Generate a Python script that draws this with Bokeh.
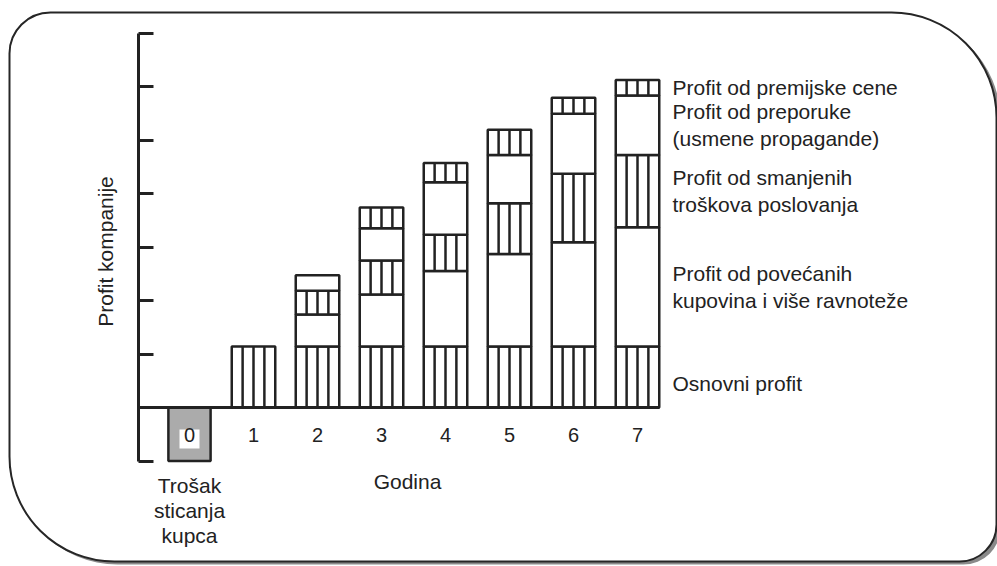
import math
from bokeh.plotting import figure
from bokeh.models import Range1d, LinearAxis, FixedTicker, BoxAnnotation
from bokeh.core.properties import value
from bokeh.embed import file_html
from bokeh.resources import INLINE

# ---------------- data (y in axis-tick units) ----------------
years = [1, 2, 3, 4, 5, 6, 7]
base_profit = [1.14, 1.14, 1.14, 1.14, 1.14, 1.14, 1.14]
purchases = [0.00, 0.60, 0.97, 1.41, 1.73, 1.95, 2.23]
cost_savings = [0.00, 0.44, 0.64, 0.68, 0.95, 1.28, 1.35]
referrals = [0.00, 0.29, 0.60, 0.98, 0.90, 1.12, 1.11]
premium = [0.00, 0.00, 0.39, 0.36, 0.47, 0.30, 0.29]
acq_year = [0]
acq_cost = [-1.0]
x_ticks = [0, 1, 2, 3, 4, 5, 6, 7]
y_ticks = [-1, 0, 1, 2, 3, 4, 5, 6, 7]
series_names = [
    "Osnovni profit",
    "Profit od povećanih\nkupovina i više ravnoteže",
    "Profit od smanjenih\ntroškova poslovanja",
    "Profit od preporuke\n(usmene propagande)",
    "Profit od premijske cene",
]
series_hatched = [True, False, True, False, True]
y_title = "Profit kompanije"
x_title = "Godina"
acq_label = "Trošak\nsticanja\nkupca"

# ---------------- layout helpers (canvas pixels -> data) ----------------
X0, DX, Y0, DY = 189.0, 64.0, 407.0, 53.5
W, H = 997, 566
def px2x(px):
    return (px - X0) / DX
def px2y(py):
    return (Y0 - py) / DY

INK = "#222222"
FONT_NAME = "Liberation Sans"
FONT = value(FONT_NAME)
BAR_W = 0.68

p = figure(width=W, height=H,
           x_range=Range1d(px2x(0), px2x(W)), y_range=Range1d(px2y(H), px2y(0)),
           x_axis_location=None, y_axis_location=None,
           toolbar_location=None, output_backend="svg", min_border=0,
           outline_line_color=None, background_fill_color="white",
           border_fill_color="white")
p.grid.visible = False

# rounded frame with shadow
radius = dict(top_left=41, top_right=105, bottom_right=37, bottom_left=105)
shadow = BoxAnnotation(left=px2x(12), right=px2x(1000), top=px2y(15), bottom=px2y(564),
                       fill_color="#8a8a8a", fill_alpha=1.0, line_color=None,
                       border_radius=radius, level="underlay")
frame = BoxAnnotation(left=px2x(9), right=px2x(996), top=px2y(12), bottom=px2y(561),
                      fill_color="white", fill_alpha=1.0, line_color="#262626",
                      line_alpha=1.0, line_width=2, border_radius=radius, level="underlay")
p.add_layout(shadow)
p.add_layout(frame)

# stacked segments
layers = [base_profit, purchases, cost_savings, referrals, premium]
sx, sb, st, sh = [], [], [], []
for i, yr in enumerate(years):
    cum = 0.0
    for layer, h in zip(layers, series_hatched):
        v = layer[i]
        if v > 0:
            sx.append(yr); sb.append(cum); st.append(cum + v); sh.append(h)
        cum += v

p.vbar(x=sx, bottom=sb, top=st, width=BAR_W, fill_color="white",
       line_color=INK, line_width=2.5)

hx, hb, ht = [], [], []
for x, b, t, h in zip(sx, sb, st, sh):
    if h:
        for f in (-0.25, 0.0, 0.25):
            hx.append(x + f * BAR_W); hb.append(b); ht.append(t)
p.segment(x0=hx, y0=hb, x1=hx, y1=ht, line_color=INK, line_width=2.5)

# acquisition cost bar (year 0)
p.vbar(x=acq_year, bottom=acq_cost, top=[0] * len(acq_year), width=BAR_W * 0.97,
       fill_color="#ababab", line_color=INK, line_width=2.5)
p.rect(x=acq_year, y=[px2y(438.5)], width=20, height=19,
       width_units="screen", height_units="screen", fill_color="white", line_color=None)

# axes
yaxis = LinearAxis(fixed_location=px2x(138), bounds=(y_ticks[0], y_ticks[-1]),
                   ticker=FixedTicker(ticks=[], minor_ticks=y_ticks),
                   major_tick_line_color=None,
                   minor_tick_in=15, minor_tick_out=0, minor_tick_line_width=3,
                   minor_tick_line_color=INK,
                   axis_line_width=3, axis_line_color=INK)
p.add_layout(yaxis, "left")

xaxis = LinearAxis(fixed_location=0, bounds=(px2x(138), years[-1] + BAR_W / 2),
                   ticker=FixedTicker(ticks=x_ticks), major_tick_in=0, major_tick_out=0,
                   major_tick_line_color=None, minor_tick_line_color=None,
                   major_label_standoff=20, major_label_text_font=FONT_NAME,
                   major_label_text_font_size="20px", major_label_text_color=INK,
                   axis_line_width=3, axis_line_color=INK)
p.add_layout(xaxis, "below")

# series labels next to the last bar
cum = 0.0
lab_y = []
for layer in layers:
    v = layer[-1]
    lab_y.append(cum + v / 2)
    cum += v
lab_y[0] -= 0.12
p.text(x=[px2x(672)] * len(series_names), y=lab_y, text=series_names,
       text_font=FONT, text_font_size="21px", text_color=INK,
       text_align="left", text_baseline="middle", text_line_height=1.17)

# titles
p.text(x=[px2x(105)], y=[px2y(251)], text=[y_title], angle=math.pi / 2,
       text_font=FONT, text_font_size="21px", text_color=INK,
       text_align="center", text_baseline="middle")
p.text(x=[px2x(407)], y=[px2y(481)], text=[x_title],
       text_font=FONT, text_font_size="21px", text_color=INK,
       text_align="center", text_baseline="middle")
p.text(x=acq_year, y=[px2y(510)], text=[acq_label],
       text_font=FONT, text_font_size="21px", text_color=INK,
       text_align="center", text_baseline="middle", text_line_height=1.08)

open("out.html", "w").write(file_html(p, INLINE))
